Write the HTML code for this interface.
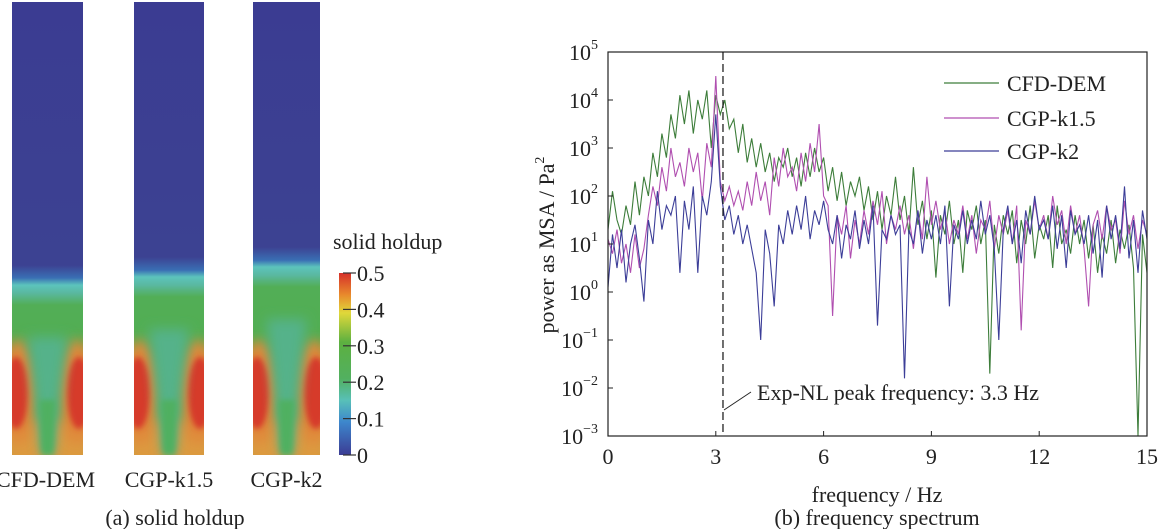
<!DOCTYPE html>
<html><head><meta charset="utf-8"><style>
html,body{margin:0;padding:0;background:#fff;}
svg{display:block;font-family:"Liberation Serif",serif;}
</style></head><body>
<svg id="fig" width="1159" height="529" viewBox="0 0 1159 529" xmlns="http://www.w3.org/2000/svg">
<defs>
<linearGradient id="cbar" x1="0" y1="1" x2="0" y2="0">
<stop offset="0" stop-color="#3b3c94"/><stop offset="0.18" stop-color="#3d86cc"/><stop offset="0.3" stop-color="#58c0b8"/>
<stop offset="0.42" stop-color="#52b060"/><stop offset="0.62" stop-color="#5cb040"/><stop offset="0.78" stop-color="#e0d83a"/>
<stop offset="0.88" stop-color="#e88a2c"/><stop offset="1" stop-color="#d6302a"/></linearGradient>
<filter id="bl" x="-50%" y="-50%" width="200%" height="200%"><feGaussianBlur stdDeviation="6"/></filter>
<filter id="bl2" x="-50%" y="-50%" width="200%" height="200%"><feGaussianBlur stdDeviation="3"/></filter>
</defs>
<g id="left"></g>
<g id="right"></g>
</svg>
<script>
// ---- chart data (log10 of power) ----
const freqStep = 0.125;
const cfdDem = [1.3,2.1,1.5,1.2,1.8,1.4,2.3,1.6,2.4,
2.0,2.9,2.4,3.3,2.8,3.7,3.2,4.1,
3.5,4.2,3.3,4.0,3.6,4.2,3.0,4.1,
3.7,4.0,3.4,3.6,2.9,3.5,2.7,3.2,
2.6,3.1,2.5,2.9,2.3,2.8,2.6,3.0,
2.4,2.8,2.2,2.9,2.4,3.0,2.5,2.8,
2.1,2.6,1.9,2.5,1.8,2.3,2.0,2.4,
1.7,2.2,1.5,2.1,1.3,2.0,1.6,2.4,
1.5,2.0,1.2,2.6,1.4,1.9,1.1,1.7,
0.3,1.6,1.2,1.9,1.0,1.5,0.4,1.7,
1.3,1.8,1.0,1.5,-1.7,1.4,0.8,1.6,
1.2,1.7,0.6,1.5,1.0,1.8,0.7,1.4,
1.1,1.6,0.5,1.8,1.0,1.3,0.8,1.6,
1.0,1.5,0.7,1.4,0.4,1.2,0.8,1.5,
0.6,1.3,0.9,1.4,0.5,-3,1.2,0.4];
const cgpK15 = [1.1,0.8,1.3,0.6,1.0,0.4,1.2,0.5,0.9,
1.6,2.2,1.8,2.6,2.1,3.0,2.4,2.7,
2.2,3.0,2.5,2.9,1.9,3.1,2.6,4.5,
2.3,1.9,2.2,1.8,2.1,1.7,2.3,1.8,
2.5,1.9,2.3,1.6,2.8,2.2,3.0,2.4,
2.6,2.1,2.9,2.3,3.1,2.5,3.5,2.0,
1.8,-0.5,1.6,1.2,1.8,0.7,1.5,1.0,
1.7,1.2,1.9,1.4,2.1,1.0,1.6,1.3,
1.8,1.2,1.6,0.9,1.7,1.1,2.4,1.4,
1.9,1.3,1.7,1.0,1.5,1.2,1.8,1.1,
1.6,0.8,1.5,1.3,1.9,0.9,1.6,1.2,
1.7,1.0,1.8,-0.8,1.5,1.2,1.9,1.3,
1.6,1.1,2.0,1.4,1.7,1.0,1.8,1.2,
1.6,0.9,-0.3,1.4,1.7,1.1,1.8,1.3,
1.5,0.8,1.9,1.2,1.6,0.9,1.5,1.2];
const cgpK2 = [0.1,1.2,0.5,1.3,0.2,1.0,1.4,0.7,-0.2,
1.5,1.0,2.1,1.3,1.8,1.6,2.0,0.4,
1.9,1.3,2.2,0.4,2.0,1.6,2.3,3.7,
2.2,1.5,1.8,1.2,1.6,1.0,1.4,0.9,
0.4,-1.0,1.3,0.8,-0.3,1.4,1.0,1.7,
1.2,1.8,1.3,2.0,1.1,1.7,1.4,1.9,
1.3,1.0,1.6,0.7,1.4,1.1,1.7,0.9,
1.5,1.0,1.8,-0.7,1.3,1.1,1.6,1.2,
1.4,-1.8,1.3,1.0,1.7,0.8,1.5,1.1,
1.6,1.0,1.8,-0.3,1.4,1.1,1.7,1.0,
1.5,1.1,1.9,1.2,1.6,0.9,-1.0,1.3,
1.8,1.0,1.5,0.6,1.7,1.2,2.0,1.3,
1.5,1.1,1.8,0.9,1.6,0.5,1.7,1.2,
1.4,1.0,1.6,0.8,1.5,0.3,1.8,1.1,
1.6,0.9,2.2,0.7,1.5,0.4,1.7,1.1];
const xTicks = [0,3,6,9,12,15];
const yExps = [-3,-2,-1,0,1,2,3,4,5];
const peakFreq = 3.2;
const seriesNames = ["CFD-DEM","CGP-k1.5","CGP-k2"];
const colorbarTicks = ["0","0.1","0.2","0.3","0.4","0.5"];
const columnNames = ["CFD-DEM","CGP-k1.5","CGP-k2"];

const NS="http://www.w3.org/2000/svg";
function mk(tag,attrs,parent,text){const e=document.createElementNS(NS,tag);for(const k in attrs)e.setAttribute(k,attrs[k]);if(text!==undefined)e.textContent=text;parent.appendChild(e);return e;}
const FS=22;

// ---- right chart ----
const R=document.getElementById('right');
const PL=608,PR=1147,PT=52,PB=436;
const sx=f=>PL+(f-0)/(15-0)*(PR-PL);
const sy=l=>PB-(l-(-3))/(5-(-3))*(PB-PT);
const cols=["#3d7d3a","#b04fb0","#3c3e98"];
[cfdDem,cgpK15,cgpK2].forEach((s,i)=>{
  const d=s.map((v,j)=>(j?'L':'M')+sx(j*freqStep).toFixed(1)+','+sy(v).toFixed(1)).join('');
  const p=mk('path',{d:d,fill:'none',stroke:cols[i],'stroke-width':1.1},R);
  
  
});
const frame=mk('rect',{x:PL,y:PT,width:PR-PL,height:PB-PT,fill:'none',stroke:'#222','stroke-width':1.2},R);


xTicks.forEach(t=>{
  mk('line',{x1:sx(t),x2:sx(t),y1:PB,y2:PB-5,stroke:'#222'},R);
  const tx=mk('text',{x:sx(t),y:PB+28,'text-anchor':'middle','font-size':FS,fill:'#222'},R,String(t));
  
  
});
yExps.forEach(e=>{
  mk('line',{x1:PL,x2:PL+5,y1:sy(e),y2:sy(e),stroke:'#222'},R);
  const tx=mk('text',{x:PL-10,y:sy(e)+8,'text-anchor':'end','font-size':FS,fill:'#222'},R);
  
  
  mk('tspan',{},tx,'10');
  mk('tspan',{dy:-11,'font-size':14},tx,String(e).replace('-','\u2212'));
});
const vl=mk('line',{x1:sx(peakFreq),x2:sx(peakFreq),y1:PT,y2:PB,stroke:'#111','stroke-width':1.2,'stroke-dasharray':'8,4'},R);


mk('line',{x1:sx(peakFreq)+1,y1:410,x2:sx(peakFreq)+28,y2:392,stroke:'#222'},R);
const an=mk('text',{x:757,y:400,'font-size':FS,fill:'#222'},R,'Exp-NL  peak  frequency: 3.3 Hz');


const ly=[83,118,151];
seriesNames.forEach((n,i)=>{
  const g=mk('g',{},R);
  
  
  mk('line',{x1:944,x2:999,y1:ly[i],y2:ly[i],stroke:cols[i],'stroke-width':1.3},g);
  mk('text',{x:1007,y:ly[i]+8,'font-size':FS,fill:'#222'},g,n);
});
const xl=mk('text',{x:877,y:502,'text-anchor':'middle','font-size':FS,fill:'#222'},R,'frequency / Hz');


const yl=mk('text',{x:0,y:0,'text-anchor':'middle','font-size':FS,fill:'#222',transform:'translate(554,245) rotate(-90)'},R);


mk('tspan',{},yl,'power  as  MSA / Pa');
mk('tspan',{dy:-10,'font-size':14},yl,'2');
const cb=mk('text',{x:877,y:525,'text-anchor':'middle','font-size':FS,fill:'#222'},R,'(b) frequency  spectrum');



// ---- left panel ----
const L=document.getElementById('left');
const colsDef=[{x:12,w:71,t:287},{x:134,w:70,t:279},{x:253,w:67,t:269}];
const TOP=2,BOT=455;
colsDef.forEach((c,i)=>{
  const g=mk('g',{},L);
  
  
  const cid='clip'+i;
  const cp=mk('clipPath',{id:cid},g);mk('rect',{x:c.x,y:TOP,width:c.w,height:BOT-TOP},cp);
  const gid='vg'+i;
  const lg=mk('linearGradient',{id:gid,x1:0,y1:0,x2:0,y2:1,gradientUnits:'userSpaceOnUse'},g);
  lg.setAttribute('y1',TOP);lg.setAttribute('y2',BOT);
  const f=v=>((v-TOP)/(BOT-TOP)).toFixed(3);
  [[0,'#3b3c92'],[f(c.t-22),'#3c4292'],[f(c.t-9),'#3a6fb4'],[f(c.t-2),'#5cc4bc'],[f(c.t+6),'#5ab8a0'],[f(c.t+18),'#52ae56'],[1,'#52ae4a']].forEach(s=>mk('stop',{offset:s[0],'stop-color':s[1]},lg));
  const cg=mk('g',{'clip-path':'url(#'+cid+')'},g);
  mk('rect',{x:c.x,y:TOP,width:c.w,height:BOT-TOP,fill:'url(#'+gid+')'},cg);
  const cx=c.x+c.w/2;
  // lower orange base
  mk('rect',{x:c.x-10,y:418,width:c.w+20,height:60,fill:'#dc9a40',filter:'url(#bl)'},cg);
  // side red zones with orange halo
  mk('ellipse',{cx:c.x+6,cy:392,rx:20,ry:52,fill:'#e0883a',filter:'url(#bl)'},cg);
  mk('ellipse',{cx:c.x+c.w-6,cy:392,rx:20,ry:52,fill:'#e0883a',filter:'url(#bl)'},cg);
  mk('ellipse',{cx:c.x+4,cy:393,rx:12,ry:36,fill:'#d63a2a',filter:'url(#bl2)'},cg);
  mk('ellipse',{cx:c.x+c.w-4,cy:393,rx:12,ry:36,fill:'#d63a2a',filter:'url(#bl2)'},cg);
  // central plume
  mk('path',{d:`M${cx-20},${c.t+50} L${cx+20},${c.t+50} L${cx+6},${BOT} L${cx-6},${BOT} Z`,fill:'#55b28a',filter:'url(#bl)'},cg);
  mk('path',{d:`M${cx-8},400 L${cx+8},400 L${cx+6},${BOT} L${cx-6},${BOT} Z`,fill:'#4fb060',filter:'url(#bl2)'},cg);
  const lb=mk('text',{x:cx+(i==0?-2:0),y:487,'text-anchor':'middle','font-size':FS,fill:'#222'},L,columnNames[i]);
  
  
});
const bar=mk('rect',{x:339,y:273,width:12,height:182,fill:'url(#cbar)'},L);


colorbarTicks.forEach((t,i)=>{
  const y=455-i*(182/5);
  mk('line',{x1:343,x2:356,y1:y,y2:y,stroke:'#333','stroke-width':1.2},L);
  const tx=mk('text',{x:357,y:y+8,'font-size':FS,fill:'#222'},L,t);
  
  
});
const ct=mk('text',{x:333,y:249,'font-size':FS,fill:'#222'},L,'solid  holdup');


const ca=mk('text',{x:175,y:525,'text-anchor':'middle','font-size':FS,fill:'#222'},L,'(a) solid  holdup');


</script>
</body></html>
